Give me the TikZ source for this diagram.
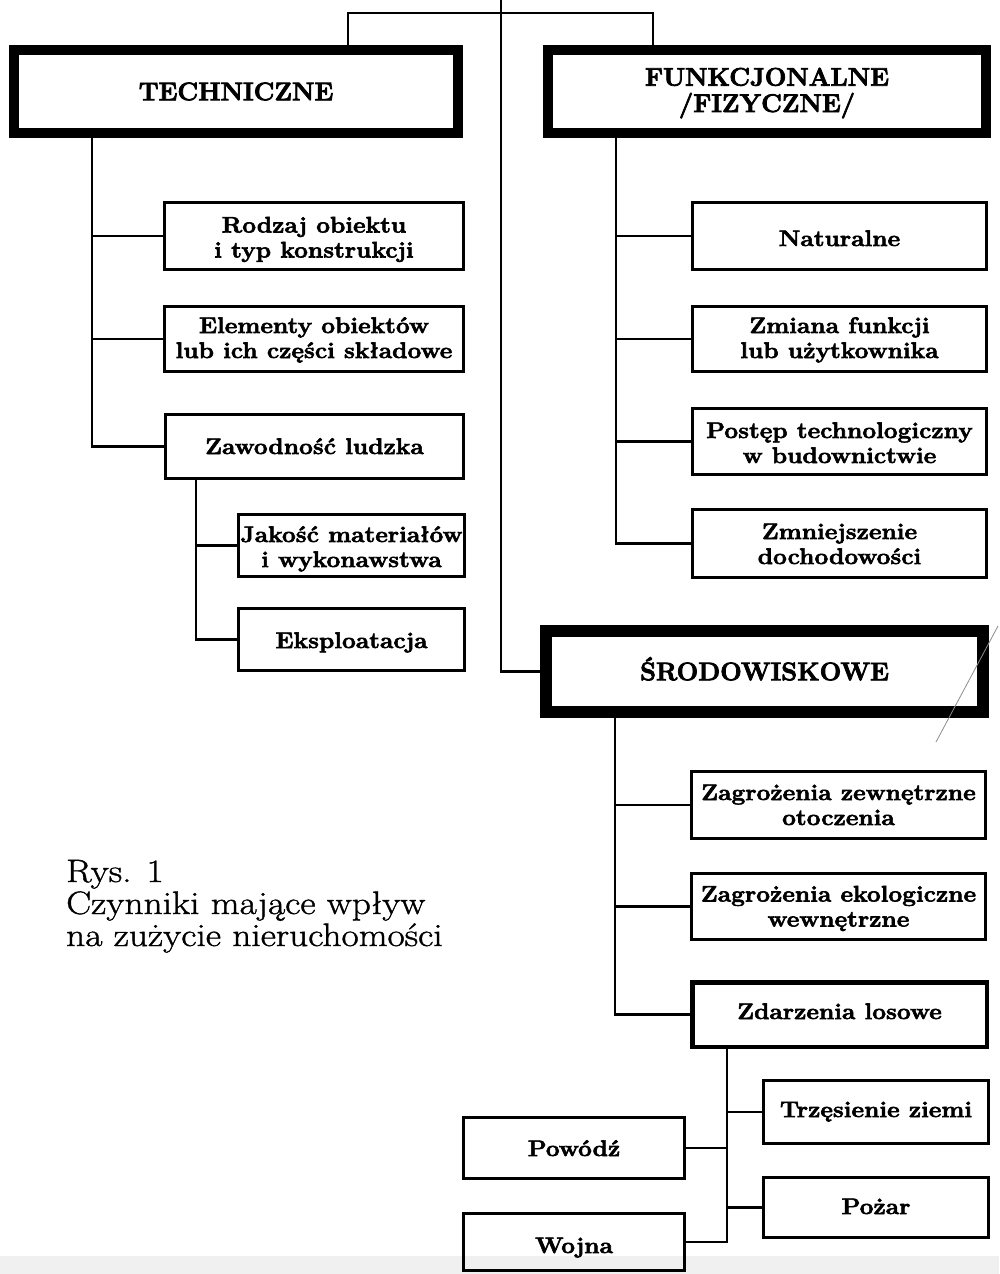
\documentclass[tikz,border=0pt]{standalone}
\usepackage{fontspec}
\setmainfont{Latin Modern Roman}[FakeStretch=1.09, UprightFeatures={FakeBold=1.2}, BoldFeatures={FakeBold=2.5}]
\newfontfamily\hdfont{Latin Modern Roman}[BoldFeatures={FakeBold=3}]
\newfontfamily\capfont{Latin Modern Roman}[FakeStretch=1.15, FakeBold=1.2]
\newcommand\oneln[2][16pt]{\raisebox{0pt}[#1][0pt]{#2}}
\newcommand\twoln[3][41pt]{\raisebox{0pt}[#1][0pt]{\begin{tabular}[b]{@{}c@{}}#2\\#3\end{tabular}}}
\tikzset{
  hbox/.style={draw, line width=10pt, inner sep=0pt, align=center,
    font=\hdfont\fontsize{25.5}{24}\selectfont\bfseries},
  sbox/.style={draw, line width=3.4pt, inner sep=0pt, align=center,
    font=\fontsize{22.5}{25}\selectfont\bfseries},
  conn/.style={line width=2.6pt, line cap=rect},
  captext/.style={anchor=base west, inner sep=0pt, font=\capfont\fontsize{32.5}{32}\selectfont}
}
\begin{document}
\begin{tikzpicture}[x=1pt, y=-1pt]
\useasboundingbox (0,0) rectangle (999,1274);
\clip (0,0) rectangle (999,1274);
\fill[black!6] (0,1256) rectangle (999,1274);
% main boxes
\node[hbox, minimum width=444pt, minimum height=83pt] (tech) at (236,91.5) {\oneln[17.5pt]{TECHNICZNE}};
\node[hbox, minimum width=438pt, minimum height=83pt] (funk) at (767,91.5) {\twoln{FUNKCJONALNE}{/FIZYCZNE/}};
\node[hbox, line width=12pt, minimum width=437pt, minimum height=81pt] (srod) at (764.5,671.5) {\oneln[17.5pt]{ŚRODOWISKOWE}};
% technical
\node[sbox, minimum width=299pt, minimum height=67pt] (rodzaj) at (314,236) {\twoln[43pt]{Rodzaj obiektu}{i typ konstrukcji}};
\node[sbox, minimum width=299pt, minimum height=65pt] (elem) at (314,339) {\twoln[38pt]{Elementy obiektów}{lub ich części składowe}};
\node[sbox, minimum width=298pt, minimum height=64pt] (zawod) at (314.5,446.5) {\oneln[15pt]{Zawodność ludzka}};
\node[sbox, minimum width=226pt, minimum height=62pt] (jakosc) at (351.5,545.5) {\twoln[43pt]{Jakość materiałów}{i wykonawstwa}};
\node[sbox, minimum width=226pt, minimum height=62pt] (eksp) at (351.5,639.5) {\oneln[17pt]{Eksploatacja}};
% functional
\node[sbox, minimum width=294pt, minimum height=67pt] (natur) at (839.5,236) {\oneln[20pt]{Naturalne}};
\node[sbox, minimum width=294pt, minimum height=65pt] (zmiana) at (839.5,339) {\twoln[38pt]{Zmiana funkcji}{lub użytkownika}};
\node[sbox, minimum width=294pt, minimum height=66pt] (postep) at (839.5,441.5) {\twoln[43pt]{Postęp technologiczny}{w budownictwie}};
\node[sbox, minimum width=294pt, minimum height=68pt] (zmniej) at (839.5,543.5) {\twoln[41pt]{Zmniejszenie}{dochodowości}};
% environmental
\node[sbox, minimum width=294pt, minimum height=67pt] (zagrz) at (838.5,805) {\twoln[40pt]{Zagrożenia zewnętrzne}{otoczenia}};
\node[sbox, minimum width=294pt, minimum height=66pt] (zagre) at (838.5,906.5) {\twoln[40pt]{Zagrożenia ekologiczne}{wewnętrzne}};
\node[sbox, line width=4.5pt, minimum width=294.5pt, minimum height=64.5pt] (zdarz) at (839.5,1014.5) {\oneln[9pt]{Zdarzenia losowe}};
\node[sbox, minimum width=225pt, minimum height=63pt] (trzes) at (876,1112) {\oneln[10pt]{Trzęsienie ziemi}};
\node[sbox, minimum width=221pt, minimum height=61pt] (powodz) at (574,1148) {\oneln[16pt]{Powódź}};
\node[sbox, minimum width=225pt, minimum height=60pt] (pozar) at (876,1207.5) {\oneln[13pt]{Pożar}};
\node[sbox, minimum width=221pt, minimum height=57pt] (wojna) at (574,1242) {\oneln[22pt]{Wojna}};
% caption
\node[captext] (cap1) at (66,882) {Rys. 1};
\node[captext] (cap2) at (66,914) {Czynniki mające wpływ};
\node[captext] (cap3) at (66,946) {na zużycie nieruchomości};
% trunk coordinates
\coordinate (top) at (501,-2);
\coordinate (topL) at (348,13);
\coordinate (topR) at (653,13);
\coordinate (tT) at (92,0);
\coordinate (tZ) at (196,0);
\coordinate (tF) at (616,0);
\coordinate (tS) at (615,0);
\coordinate (tD) at (727,0);
% top connectors
\draw[conn] (tech.north -| topL) -- (topL) -- (topR) -- (funk.north -| topR);
\draw[conn] (top) |- (srod.west);
% technical tree
\draw[conn] (tech.south -| tT) |- (zawod.west);
\draw[conn] (tT |- rodzaj.west) -- (rodzaj.west);
\draw[conn] (tT |- elem.west) -- (elem.west);
\draw[conn] (zawod.south -| tZ) |- (eksp.west);
\draw[conn] (tZ |- jakosc.west) -- (jakosc.west);
% functional tree
\draw[conn] (funk.south -| tF) |- (zmniej.west);
\draw[conn] (tF |- natur.west) -- (natur.west);
\draw[conn] (tF |- zmiana.west) -- (zmiana.west);
\draw[conn] (tF |- postep.west) -- (postep.west);
% environmental tree
\draw[conn] (srod.south -| tS) |- (zdarz.west);
\draw[conn] (tS |- zagrz.west) -- (zagrz.west);
\draw[conn] (tS |- zagre.west) -- (zagre.west);
% random events
\draw[conn] (zdarz.south -| tD) |- (wojna.east);
\draw[conn] (tD |- trzes.west) -- (trzes.west);
\draw[conn] (tD |- powodz.east) -- (powodz.east);
\draw[conn] (tD |- pozar.west) -- (pozar.west);
% scan artefact line
\draw[black!45, line width=0.8pt] (998,626) -- (936,742);
\end{tikzpicture}
\end{document}
